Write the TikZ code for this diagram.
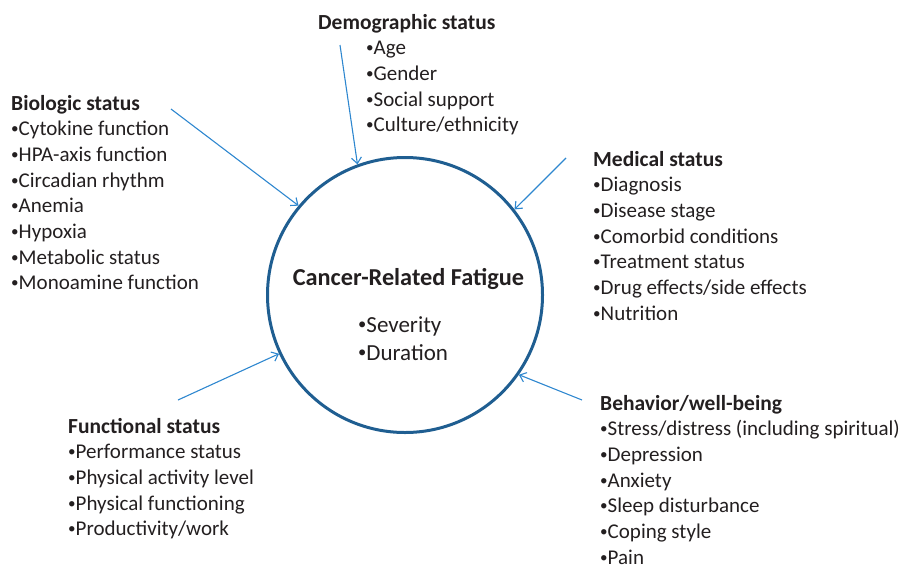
\documentclass[tikz,border=0pt]{standalone}
\usepackage{fontspec}
\setmainfont{Carlito}
\usetikzlibrary{arrows.meta}

\definecolor{ringblue}{HTML}{1F5E91}
\definecolor{arrowblue}{HTML}{2E87CF}
\definecolor{inkgray}{HTML}{231F20}

\tikzset{
  factor/.style={anchor=north west, inner sep=0pt, align=left, text=inkgray,
    font=\fontsize{21}{25.7}\selectfont},
  feed/.style={draw=arrowblue, line width=1.1pt, -{Straight Barb[length=6pt,width=10pt]}},
  ring/.style={circle, draw=ringblue, line width=3pt, minimum size=275pt, inner sep=0pt}
}
\newcommand{\hd}[1]{\strut{\fontsize{21.5}{25.7}\selectfont\bfseries #1}}
\newcommand{\bul}{\raisebox{0.1em}{\scalebox{0.72}{\textbullet}}}

\begin{document}
\begin{tikzpicture}[x=1pt,y=-1pt]
\useasboundingbox (0,0) rectangle (907,565);
% centre circle
\node[ring] (crf) at (405,295) {};
\node[anchor=base, text=inkgray, font=\fontsize{24.3}{28}\selectfont\bfseries] (crftitle) at (408.5,285) {Cancer-Related Fatigue};
\node[factor, font=\fontsize{23}{28}\selectfont] (crfitems) at (358,312.4) {\strut\bul Severity\\\bul Duration};
% factor blocks
\node[factor] (demo) at (318,10.9) {\hd{Demographic status}\\
  \hspace{48pt}\bul Age\\\hspace{48pt}\bul Gender\\\hspace{48pt}\bul Social support\\\hspace{48pt}\bul Culture/ethnicity};
\node[factor] (bio) at (11,91.9) {\hd{Biologic status}\\\bul Cytokine function\\\bul HPA-axis function\\
  \bul Circadian rhythm\\\bul Anemia\\\bul Hypoxia\\\bul Metabolic status\\\bul Monoamine function};
\node[factor] (med) at (593,147.9) {\hd{Medical status}\\\bul Diagnosis\\\bul Disease stage\\
  \bul Comorbid conditions\\\bul Treatment status\\\bul Drug effects/side effects\\\bul Nutrition};
\node[factor] (func) at (68,414.9) {\hd{Functional status}\\\bul Performance status\\
  \bul Physical activity level\\\bul Physical functioning\\\bul Productivity/work};
\node[factor] (behav) at (600,391.9) {\hd{Behavior/well-being}\\\bul Stress/distress (including spiritual)\\
  \bul Depression\\\bul Anxiety\\\bul Sleep disturbance\\\bul Coping style\\\bul Pain};
% arrow starts
\coordinate (demoS) at (340,45);
\coordinate (bioS) at (171,109);
\coordinate (medS) at (566,158);
\coordinate (funcS) at (178,400);
\coordinate (behavS) at (582,400);
\draw[feed] (demoS) -- (crf.110);
\draw[feed] (bioS) -- (crf.140);
\draw[feed] (medS) -- (crf.38);
\draw[feed] (funcS) -- (crf.205);
\draw[feed] (behavS) -- (crf.-35);
\end{tikzpicture}
\end{document}
